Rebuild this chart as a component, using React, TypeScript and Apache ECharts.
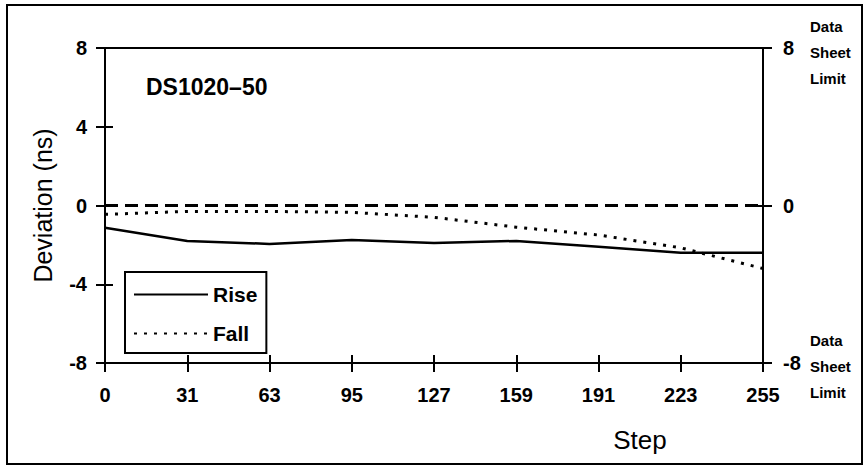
import React, { useEffect, useRef } from "react";
import * as echarts from "echarts";

const steps = ["0", "31", "63", "95", "127", "159", "191", "223", "255"];
const rise = [-1.13, -1.8, -1.95, -1.75, -1.9, -1.8, -2.1, -2.4, -2.4];
const fall = [-0.45, -0.3, -0.3, -0.35, -0.6, -1.1, -1.5, -2.15, -3.2];
const leftTicks = [-8, -4, 0, 4, 8];
const referenceLine = 0;

const FONT = '"Liberation Sans", Arial, Helvetica, sans-serif';

export default function App() {
  const ref = useRef<HTMLDivElement>(null);
  useEffect(() => {
    document.body.style.margin = "0";
    const chart = echarts.init(ref.current!, null, { renderer: "svg" });
    const black = "#000";
    const yBase = {
      type: "value" as const,
      min: leftTicks[0],
      max: leftTicks[leftTicks.length - 1],
      splitLine: { show: false },
    };
    chart.setOption({
      animation: false,
      backgroundColor: "#fff",
      textStyle: { fontFamily: FONT },
      grid: {
        left: 105,
        right: 101,
        top: 48,
        bottom: 103,
        show: true,
        borderColor: black,
        borderWidth: 2,
      },
      legend: {
        data: ["Rise", "Fall"],
        orient: "vertical",
        left: 125,
        top: 272,
        padding: [12, 9, 9, 8],
        itemWidth: 74,
        itemHeight: 20,
        itemGap: 18,
        borderColor: black,
        borderWidth: 2,
        selectedMode: false,
        itemStyle: { color: "transparent", borderColor: "transparent", borderWidth: 0, opacity: 0 },
        textStyle: {
          fontFamily: FONT,
          fontWeight: "bold",
          fontSize: 21,
          color: black,
          lineHeight: 20,
        },
      },
      xAxis: [
        {
          type: "category",
          data: steps,
          boundaryGap: false,
          position: "bottom",
          axisLine: { onZero: false, lineStyle: { color: black, width: 2 } },
          axisTick: { length: 9, lineStyle: { color: black, width: 2 } },
          axisLabel: {
            margin: 22,
            color: black,
            fontFamily: FONT,
            fontWeight: "bold",
            fontSize: 20,
          },
        },
        {
          type: "category",
          data: steps,
          boundaryGap: false,
          position: "bottom",
          axisLine: { show: false, onZero: false },
          axisTick: { inside: true, length: 8, lineStyle: { color: black, width: 2 } },
          axisLabel: { show: false },
        },
      ],
      yAxis: [
        {
          ...yBase,
          position: "left",
          interval: 4,
          name: "Deviation (ns)",
          nameLocation: "middle",
          nameGap: 50,
          nameTextStyle: { fontFamily: FONT, fontSize: 25, color: black },
          axisLine: { show: true, lineStyle: { color: black, width: 2 } },
          axisTick: { show: true, length: 9, lineStyle: { color: black, width: 2 } },
          axisLabel: {
            margin: 18,
            color: black,
            fontFamily: FONT,
            fontWeight: "bold",
            fontSize: 20,
          },
        },
        {
          ...yBase,
          position: "left",
          interval: 4,
          axisLine: { show: false },
          axisTick: { show: true, inside: true, length: 8, lineStyle: { color: black, width: 2 } },
          axisLabel: { show: false },
        },
        {
          ...yBase,
          position: "right",
          interval: 8,
          axisLine: { show: true, lineStyle: { color: black, width: 2 } },
          axisTick: { show: true, length: 9, lineStyle: { color: black, width: 2 } },
          axisLabel: {
            margin: 20,
            color: black,
            fontFamily: FONT,
            fontWeight: "bold",
            fontSize: 20,
          },
        },
        {
          ...yBase,
          position: "right",
          interval: 8,
          axisLine: { show: false },
          axisTick: { show: true, inside: true, length: 8, lineStyle: { color: black, width: 2 } },
          axisLabel: { show: false },
        },
      ],
      series: [
        {
          name: "Rise",
          type: "line",
          data: rise,
          symbol: "none",
          lineStyle: { color: black, width: 2.5, type: "solid" },
          itemStyle: { color: black },
          markLine: {
            silent: true,
            symbol: "none",
            label: { show: false },
            lineStyle: { color: black, width: 3, type: [13, 7] },
            data: [{ yAxis: referenceLine }],
          },
        },
        {
          name: "Fall",
          type: "line",
          data: fall,
          symbol: "none",
          lineStyle: { color: black, width: 3, type: [3, 7] },
          itemStyle: { color: black },
        },
      ],
      graphic: [
        {
          type: "rect",
          shape: { x: 7, y: 5, width: 855, height: 459 },
          style: { fill: "none", stroke: black, lineWidth: 2 },
          silent: true,
        },
        {
          type: "text",
          left: 146,
          top: 75,
          style: {
            text: "DS1020–50",
            font: `bold 23px ${FONT}`,
            fill: black,
          },
        },
        {
          type: "text",
          x: 640,
          y: 440,
          style: {
            text: "Step",
            font: `26px ${FONT}`,
            fill: black,
            align: "center",
            verticalAlign: "middle",
          },
        },
        {
          type: "text",
          x: 810,
          y: 13,
          style: {
            text: "Data\nSheet\nLimit",
            font: `bold 15px ${FONT}`,
            lineHeight: 26,
            fill: black,
            verticalAlign: "top",
          },
        },
        {
          type: "text",
          x: 810,
          y: 327,
          style: {
            text: "Data\nSheet\nLimit",
            font: `bold 15px ${FONT}`,
            lineHeight: 26,
            fill: black,
            verticalAlign: "top",
          },
        },
      ],
    });
    return () => chart.dispose();
  }, []);
  return <div ref={ref} style={{ width: 864, height: 466 }} />;
}
